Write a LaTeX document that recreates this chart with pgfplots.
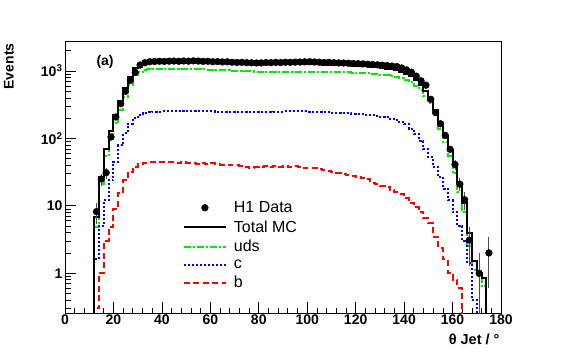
\documentclass[border=0pt]{standalone}
\usepackage{pgfplots}
\pgfplotsset{compat=1.18}
\usepackage{pgfplotstable}
\usepackage{fontspec}
\setmainfont{Liberation Sans}
\definecolor{mcgreen}{RGB}{0,235,0}
\definecolor{mcblue}{RGB}{0,0,255}
\definecolor{mcred}{RGB}{255,0,0}

\pgfplotstableread{
x uds c b tot
11 0.01 0.01 0.01 0.01
13 4.9 1.6 0.3 6.8
15 21 5 1.0 27
17 54 12 3.0 69
19 98 24 4.8 127
21 170 45 9 224
23 260 80 15.5 356
25 415 120 24 559
27 630 165 32 827
29 870 200 38 1108
31 970 222 42 1234
33 1030 236 43 1309
35 1060 244 44 1348
37 1070 248 44 1362
39 1075 250 45 1370
41 1080 252 45 1377
43 1080 254 44 1378
45 1078 255 44 1377
47 1075 256 43 1374
49 1072 258 44 1374
51 1068 258 43 1369
53 1065 256 43 1364
55 1060 255 42 1357
57 1055 254 43 1352
59 1050 252 42 1344
61 1042 252 43 1337
63 1035 250 42 1327
65 1028 250 41 1319
67 1020 250 41 1311
69 1012 250 40 1302
71 1005 249 40 1294
73 998 249 39 1286
75 992 248 38 1278
77 986 248 37 1271
79 982 248 38 1268
81 980 248 38 1266
83 978 249 39 1266
85 976 249 38 1263
87 976 250 39 1265
89 976 250 38 1264
91 976 251 39 1266
93 977 252 38 1267
95 977 252 39 1268
97 976 252 38 1266
99 975 251 37 1263
101 973 250 36 1259
103 971 249 36 1256
105 969 248 35 1252
107 967 246 34 1247
109 965 244 33 1242
111 963 242 32 1237
113 960 240 31 1231
115 957 238 30 1225
117 953 235 29 1217
119 948 232 28 1208
121 942 230 27 1199
123 935 228 26 1189
125 925 225 25 1175
127 912 220 22 1154
129 897 215 21 1133
131 880 210 19.5 1110
133 860 205 19 1084
135 850 195 17 1062
137 825 185 16 1026
139 790 175 15 980
141 740 162 13 915
143 680 140 11 831
145 600 115 9.5 725
147 530 92 8 630
149 430 70 6.5 507
151 330 53 5.5 389
153 225 38 3.5 267
155 140 27 2.4 169
157 88 18 1.6 108
159 55 12 1.0 68
161 31 8 0.8 40
163 16 5 0.6 22
165 8 3 0.01 11
167 2.5 1.4 0.01 3.9
169 1.1 0.4 0.01 1.5
171 0.9 0.01 0.01 1.0
173 0.65 0.01 0.01 0.85
175 0.01 0.01 0.01 0.01
177 0.01 0.01 0.01 0.01
}\mc

\pgfplotstableread{
x y err
13 8.2 2.9
15 25 5
17 31 5.6
19 105 10
21 208 14
23 327 18
25 500 22
27 728 27
29 955 31
31 1230 35
33 1330 36
35 1375 37
37 1385 37
39 1395 37
41 1390 37
43 1400 37
45 1405 37
47 1395 37
49 1410 38
51 1400 37
53 1415 38
55 1405 37
57 1390 37
59 1395 37
61 1375 37
63 1380 37
65 1365 37
67 1370 37
69 1350 37
71 1340 37
73 1345 37
75 1330 36
77 1325 36
79 1315 36
81 1320 36
83 1335 37
85 1330 36
87 1345 37
89 1335 37
91 1350 37
93 1345 37
95 1355 37
97 1360 37
99 1370 37
101 1375 37
103 1360 37
105 1350 37
107 1340 37
109 1345 37
111 1330 36
113 1320 36
115 1315 36
117 1305 36
119 1295 36
121 1285 36
123 1275 36
125 1260 35
127 1250 35
129 1235 35
131 1220 35
133 1205 35
135 1185 34
137 1165 34
139 1110 33
141 1040 32
143 960 31
145 840 29
147 716 27
149 617 25
151 381 20
153 242 16
155 165 13
157 111 11
159 69 8.3
161 41 6.4
163 21 4.6
165 12.3 3.5
167 3.1 1.8
171 1.0 0.99
175 2.0 1.4
}\data

\begin{document}
\begin{tikzpicture}[x=1pt,y=1pt]
\path[use as bounding box] (0,0) rectangle (567,354);
\begin{axis}[
  at={(65pt,41pt)}, anchor=south west,
  scale only axis, width=436pt, height=272pt,
  xmin=0, xmax=180,
  ymode=log, ymin=0.257, ymax=2790,
  xtick={0,20,...,180}, minor x tick num=4,
  ytick={1,10,100,1000},
  yticklabels={1,10,10\textsuperscript{2},10\textsuperscript{3}},
  minor ytick={0.3,0.4,0.5,0.6,0.7,0.8,0.9,2,3,4,5,6,7,8,9,20,30,40,50,60,70,80,90,200,300,400,500,600,700,800,900,2000},
  tick align=inside, xtick pos=left, ytick pos=left,
  major tick length=11pt, minor tick length=5.5pt,
  every tick/.style={black, line width=0.7pt},
  axis line style={line width=0.9pt},
  /pgf/number format/assume math mode=true,
  tick label style={font=\fontsize{14}{15}\selectfont\bfseries},
  xticklabel style={yshift=1.5pt},
  yticklabel style={xshift=1pt},
  legend style={at={(0.27,0.418)}, anchor=north west, draw=none, fill=none,
    font=\fontsize{16}{18}\selectfont, row sep=2.5pt, inner sep=0pt},
  legend cell align=left,
  legend image code/.code={\draw[mark repeat=2,mark phase=2,#1] plot coordinates {(0pt,0pt) (21pt,0pt) (42pt,0pt)};\path (47pt,0pt);},
]
\addplot[forget plot, const plot mark mid, mcgreen, line width=2pt, dash pattern=on 7pt off 2pt on 2pt off 2pt] table[x=x,y=uds]{\mc};
\addplot[forget plot, const plot mark mid, mcblue, line width=2pt, dash pattern=on 2pt off 2pt] table[x=x,y=c]{\mc};
\addplot[forget plot, const plot mark mid, mcred, line width=2pt, dash pattern=on 6pt off 3.5pt] table[x=x,y=b]{\mc};
\addplot[forget plot, const plot mark mid, black, line width=2pt] table[x=x,y=tot]{\mc};
\addplot[forget plot, only marks, mark=*, mark size=3.4pt, black,
  error bars/.cd, y dir=both, y explicit, error mark=none,
  error bar style={line width=0.9pt, black!70}]
  table[x=x,y=y,y error=err]{\data};
\addlegendimage{only marks, mark=*, mark size=3.4pt, black}
\addlegendentry{H1 Data}
\addlegendimage{black, line width=2pt}
\addlegendentry{Total MC}
\addlegendimage{mcgreen, line width=2pt, dash pattern=on 7pt off 2pt on 2pt off 2pt}
\addlegendentry{uds}
\addlegendimage{mcblue, line width=2pt, dash pattern=on 2pt off 2pt}
\addlegendentry{c}
\addlegendimage{mcred, line width=2pt, dash pattern=on 6pt off 3.5pt}
\addlegendentry{b}
\end{axis}
\node[anchor=west, font=\fontsize{14}{16}\selectfont\bfseries] at (93,292) {(a)};
\node[rotate=90, anchor=east, font=\fontsize{14}{16}\selectfont\bfseries] at (9,314) {Events};
\node[anchor=base east, font=\fontsize{14.5}{16}\selectfont\bfseries] at (503,10) {θ Jet / °};
\end{tikzpicture}
\end{document}
